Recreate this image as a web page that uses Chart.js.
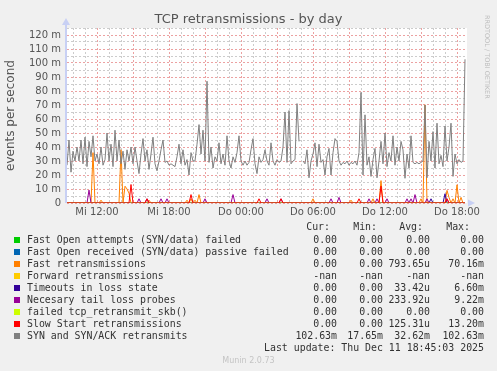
<!DOCTYPE html>
<html>
<head>
<meta charset="utf-8">
<script src="https://cdn.jsdelivr.net/npm/chart.js@4"></script>
<style>
body { margin: 0; background: #f0f0f0; }
#wrap { position: relative; width: 497px; height: 371px; overflow: hidden; }
#chart { position: absolute; left: 0; top: 0; }
.lg { position: absolute; font-family: 'DejaVu Sans Mono', monospace; font-size: 9.9px; line-height: 12px; color: #333; white-space: pre; }
.sq { position: absolute; width: 6px; height: 6px; }
</style>
</head>
<body>
<div id="wrap">
<canvas id="chart" width="497" height="371"></canvas>
</div>
<script>
// samples every 10 minutes, first one Mi 09:30
var startHour = 9.5;
var stepHour = 1 / 6;

// SYN and SYN/ACK retransmits (m/s)
var synRetrans = [
  27, 45, 22, 37, 30, 40, 30, 45, 28, 47, 26, 44, 33, 48,
  30, 35, 28, 40, 27, 31, 50, 30, 42, 26, 52, 30, 45, 28, 37, 24, 38, 30, 40, 28,
  40, 30, 21, 35, 46, 30, 38, 24, 35, 47, 28, 23, 30, 38, 45, 29, 30, 27, 28, 27,
  26, 33, 42, 28, 38, 27, 31, 20, 36, 30, 30, 42, 56, 35, 52, 30, 87, 29,
  40, 25, 33, 30, 43, 28, 35, 27, 48, 30, 25, 33, 29, 36, 48, 30, 27, 30, 27, 29, 38, 46, 28, 21, 33, 29, 31, 38,
  30, 27, 43, 30, 27, 31, 29, 30, 40, 65, 29, 66, 28, 30, 31, 71, 44, null, 30,
  28, 38, 18, 30, 35, 43, 26, 42, 29, 31, 20, 33, 39, 20, 36, 46,
  44, 30, 27, 29, 28, 30, 27, 29, 28, 30, 27, 36, 79, 20, 63, 27, 33, 19, 31, 39, 18, 30, 44, 28, 50, 26, 36, 30, 48, 27, 40, 30, 44,
  38, 17.65, 35, 25, 48, 29, 28, 29, 28, 29, 30, 70, 18, 44, 30, 51, 25, 57, 28, 34, 26, 55, 30, 40, 57, 19, 35, 28, 31, 29, 30, 102.63
];

// the other counters are zero except for these spikes
var fastRetrans = [['Mi 11:40', 36], ['Mi 12:20', 2], ['Mi 14:00', 38], ['Mi 14:20', 12], ['Mi 14:30', 10],
  ['Mi 14:40', 7], ['Mi 16:20', 2], ['Mi 19:30', 2], ['Mi 19:50', 3], ['Mi 20:10', 2], ['Mi 20:30', 6],
  ['Do 06:00', 3], ['Do 09:10', 2], ['Do 11:00', 3], ['Do 11:40', 16], ['Do 15:00', 3], ['Do 15:20', 70.16],
  ['Do 17:10', 9], ['Do 17:20', 4], ['Do 17:40', 3], ['Do 18:00', 13], ['Do 18:20', 4]];
var timeouts = [['Do 15:50', 3], ['Do 17:00', 6.6]];
var tailLoss = [['Mi 11:20', 9.22], ['Mi 15:30', 3], ['Mi 16:10', 3], ['Mi 17:20', 3], ['Mi 17:50', 3],
  ['Mi 21:00', 3], ['Mi 23:20', 6], ['Do 02:10', 3], ['Do 03:20', 3], ['Do 07:30', 3], ['Do 08:10', 4],
  ['Do 10:40', 3], ['Do 11:20', 3], ['Do 12:10', 3], ['Do 13:50', 3], ['Do 14:10', 3], ['Do 14:30', 6],
  ['Do 15:30', 3], ['Do 17:10', 3]];
var slowStart = [['Mi 14:50', 13.2], ['Mi 16:10', 3], ['Mi 19:50', 6], ['Do 01:30', 3], ['Do 03:20', 3],
  ['Do 09:50', 3], ['Do 11:40', 12], ['Do 17:10', 3]];

var hourTicks = [10, 11, 12, 13, 14, 15, 16, 17, 18, 19, 20, 21, 22, 23, 24, 25, 26, 27, 28, 29, 30,
  31, 32, 33, 34, 35, 36, 37, 38, 39, 40, 41, 42];
var hourLabels = { 12: 'Mi 12:00', 18: 'Mi 18:00', 24: 'Do 00:00', 30: 'Do 06:00', 36: 'Do 12:00', 42: 'Do 18:00' };

var legendNames = ['Fast Open attempts (SYN/data) failed', 'Fast Open received (SYN/data) passive failed',
  'Fast retransmissions', 'Forward retransmissions', 'Timeouts in loss state', 'Necesary tail loss probes',
  'failed tcp_retransmit_skb()', 'Slow Start retransmissions', 'SYN and SYN/ACK retransmits'];
var legendColors = ['#00cc00', '#0066b3', '#ff8000', '#ffcc00', '#330099', '#990099', '#ccff00', '#ff0000', '#808080'];
var curVals = ['0.00', '0.00', '0.00', '-nan', '0.00', '0.00', '0.00', '0.00', '102.63m'];
var minVals = ['0.00', '0.00', '0.00', '-nan', '0.00', '0.00', '0.00', '0.00', '17.65m'];
var avgVals = ['0.00', '0.00', '793.65u', '-nan', '33.42u', '233.92u', '0.00', '125.31u', '32.62m'];
var maxVals = ['0.00', '0.00', '70.16m', '-nan', '6.60m', '9.22m', '0.00', '13.20m', '102.63m'];

function hourOf(t) {
  var p = t.split(' ');
  var hm = p[1].split(':');
  return (p[0] === 'Do' ? 24 : 0) + Number(hm[0]) + Number(hm[1]) / 60;
}

function series(fill) {
  return synRetrans.map(function(v, i) {
    return { x: startHour + i * stepHour, y: fill === 'syn' ? v : fill };
  });
}

function spikes(list) {
  var out = series(0);
  list.forEach(function(e) {
    var i = Math.round((hourOf(e[0]) - startHour) / stepHour);
    out[i].y = e[1];
  });
  return out;
}

var seriesData = [series(0), series(0), spikes(fastRetrans), series(null), spikes(timeouts),
  spikes(tailLoss), series(0), spikes(slowStart), series('syn')];

var datasets = seriesData.map(function(d, i) {
  return {
    label: legendNames[i],
    data: d,
    borderColor: legendColors[i],
    backgroundColor: legendColors[i],
    borderWidth: 1,
    pointRadius: 0,
    spanGaps: false,
    order: 8 - i
  };
});

var majorGrid = 'rgba(230, 130, 130, 0.75)';
var minorGrid = 'rgba(195, 195, 195, 0.85)';
var tickFont = { family: 'DejaVu Sans', size: 10 };

var frame = {
  id: 'frame',
  beforeDraw: function(chart) {
    var a = chart.chartArea, ctx = chart.ctx;
    ctx.save();
    ctx.fillStyle = '#ffffff';
    ctx.fillRect(a.left, a.top, a.right - a.left, a.bottom - a.top);
    ctx.restore();
  },
  afterDraw: function(chart) {
    var a = chart.chartArea, ctx = chart.ctx;
    ctx.save();
    ctx.strokeStyle = '#c8d0f4';
    ctx.fillStyle = '#c8d0f4';
    ctx.lineWidth = 2;
    ctx.beginPath();
    ctx.moveTo(a.left - 1, a.bottom);
    ctx.lineTo(a.left - 1, a.top - 4);
    ctx.stroke();
    ctx.beginPath();
    ctx.moveTo(a.left - 5, a.top - 3);
    ctx.lineTo(a.left + 3, a.top - 3);
    ctx.lineTo(a.left - 1, a.top - 10);
    ctx.fill();
    ctx.beginPath();
    ctx.moveTo(a.right + 1, a.bottom - 3.5);
    ctx.lineTo(a.right + 1, a.bottom + 3.5);
    ctx.lineTo(a.right + 8, a.bottom);
    ctx.fill();
    ctx.restore();
  }
};

new Chart(document.getElementById('chart'), {
  type: 'line',
  data: { datasets: datasets },
  options: {
    responsive: false,
    animation: false,
    layout: { padding: { left: 0, right: 0, top: 0, bottom: 148 } },
    plugins: {
      legend: { display: false },
      tooltip: { enabled: false },
      title: {
        display: true,
        text: 'TCP retransmissions - by day',
        color: '#555',
        font: { family: 'DejaVu Sans', size: 13, weight: 'normal' },
        padding: { top: 12, bottom: 0.4 }
      }
    },
    scales: {
      x: {
        type: 'linear',
        min: 9.5,
        max: 42.8333,
        afterBuildTicks: function(s) {
          s.ticks = hourTicks.map(function(h) { return { value: h }; });
        },
        afterFit: function(s) { s.height = 20; },
        ticks: {
          autoSkip: false,
          maxRotation: 0,
          padding: 3,
          color: '#555',
          font: tickFont,
          callback: function(v) { return hourLabels[v] || ''; }
        },
        grid: {
          drawTicks: false,
          color: function(c) { return c.tick && c.tick.value % 3 === 0 ? majorGrid : minorGrid; }
        },
        border: { display: false, dash: [2, 2] }
      },
      y: {
        min: 0,
        max: 125,
        afterFit: function(s) { s.width = 67; },
        ticks: {
          stepSize: 5,
          autoSkip: false,
          padding: 6,
          color: '#555',
          font: tickFont,
          callback: function(v) {
            if (v % 10 !== 0) return '';
            return v === 0 ? '0' : v + ' m';
          }
        },
        grid: {
          drawTicks: false,
          color: function(c) { return c.tick && c.tick.value % 10 === 0 ? majorGrid : minorGrid; }
        },
        border: { display: false, dash: [2, 2] },
        title: {
          display: true,
          text: 'events per second',
          color: '#555',
          font: { family: 'DejaVu Sans', size: 12 },
          padding: { top: 4, bottom: 0 }
        }
      },
      side: {
        position: 'right',
        min: 0,
        max: 125,
        afterFit: function(s) { s.width = 30; },
        ticks: { display: false },
        grid: { drawOnChartArea: false, drawTicks: false },
        border: { display: false }
      }
    }
  },
  plugins: [frame]
});

// legend block under the graph
var wrap = document.getElementById('wrap');
function addText(txt, css, cls) {
  var d = document.createElement('div');
  d.className = cls || 'lg';
  d.textContent = txt;
  Object.keys(css).forEach(function(k) { d.style[k] = css[k]; });
  wrap.appendChild(d);
  return d;
}

var headRights = [330, 377, 423, 470];
['Cur:', 'Min:', 'Avg:', 'Max:'].forEach(function(h, i) {
  addText(h, { right: (497 - headRights[i]) + 'px', top: '221px' });
});

var valRights = [337, 383, 430, 484];
legendNames.forEach(function(name, k) {
  var top = 233.5 + k * 12;
  addText('', { left: '14px', top: (top + 3) + 'px', background: legendColors[k] }, 'sq');
  addText(name, { left: '27px', top: top + 'px' });
  [curVals, minVals, avgVals, maxVals].forEach(function(col, c) {
    addText(col[k], { right: (497 - valRights[c]) + 'px', top: top + 'px' });
  });
});

addText('Last update: Thu Dec 11 18:45:03 2025', { right: '13px', top: '341.5px' });
addText('Munin 2.0.73', { left: '0px', width: '497px', textAlign: 'center', top: '355px',
  fontFamily: 'DejaVu Sans', fontSize: '8px', color: '#c4c4c4' });
addText('RRDTOOL / TOBI OETIKER', { left: '483px', top: '15px', writingMode: 'vertical-rl',
  fontFamily: 'DejaVu Sans', fontSize: '6.5px', lineHeight: '8px', color: '#bdbdbd' });
</script>
</body>
</html>
